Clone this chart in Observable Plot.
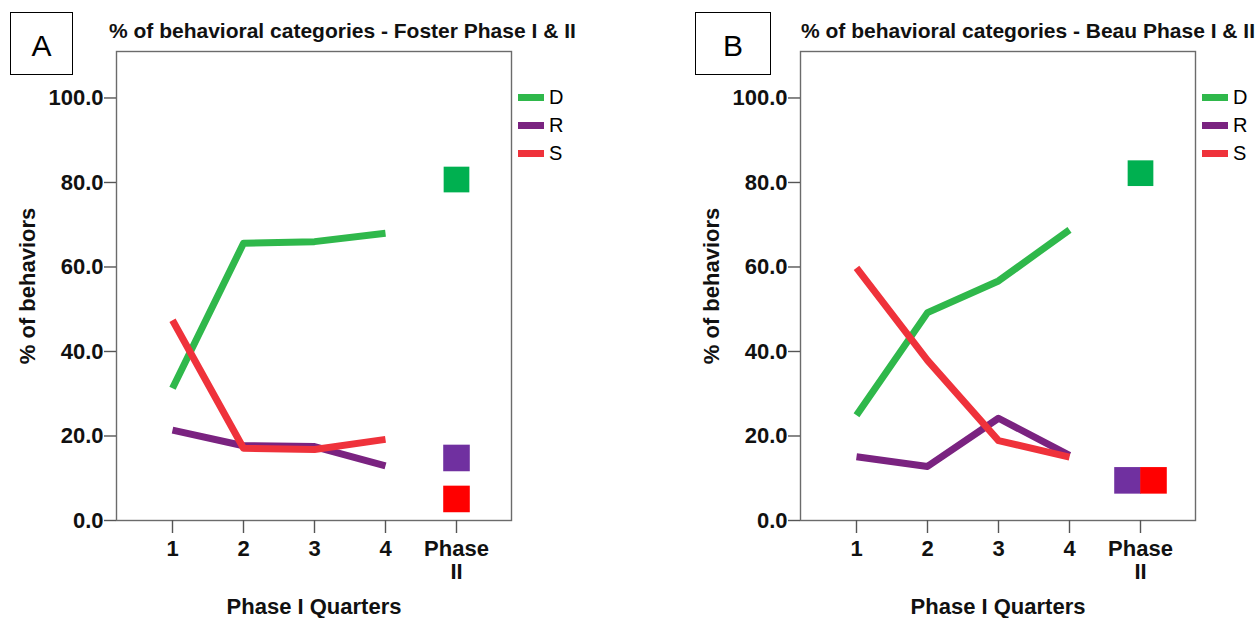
<!DOCTYPE html>
<html>
<head>
<meta charset="utf-8">
<script src="https://cdn.jsdelivr.net/npm/d3@7"></script>
<script src="https://cdn.jsdelivr.net/npm/@observablehq/plot@0.6"></script>
<style>
  html, body { margin: 0; padding: 0; background: #fff; }
  body { width: 1255px; height: 618px; position: relative; overflow: hidden; }
  .abs { position: absolute; }
  .panel { width: 640px; height: 618px; }
  .panel svg { max-width: none !important; }
  .title { font-family: "Liberation Sans Narrow", "Arial Narrow", "Liberation Sans", sans-serif; font-weight: bold; font-size: 21px; color: #111; white-space: nowrap; line-height: 1; }
  .box { border: 1.5px solid #000; box-sizing: border-box; font-family: "Liberation Sans", Arial, sans-serif; font-size: 30px; display: flex; align-items: center; justify-content: center; padding-top: 4px; }
  .legend { font-family: "Liberation Sans", Arial, sans-serif; font-size: 20px; color: #000; }
  .legend .row { display: flex; align-items: center; height: 28px; }
  .legend .sw { width: 26px; height: 7px; margin-right: 5px; }
</style>
</head>
<body>
<script>
// ---- data ----
const quarters = ["1", "2", "3", "4", "Phase II"];
const phase1Quarters = ["1", "2", "3", "4"];
const seriesNames = ["D", "R", "S"];
const yTicks = [0, 20, 40, 60, 80, 100];

// Foster (panel A)
const fosterD = [31.3, 65.6, 66.0, 68.0];
const fosterR = [21.4, 17.7, 17.5, 12.9];
const fosterS = [47.4, 17.1, 16.8, 19.2];
const fosterPhase2 = [80.7, 14.8, 5.1]; // D, R, S

// Beau (panel B)
const beauD = [24.9, 49.2, 56.7, 68.8];
const beauR = [15.1, 12.8, 24.2, 15.4];
const beauS = [59.8, 37.9, 18.9, 15.0];
const beauPhase2 = [82.2, 9.5, 9.5]; // D, R, S

const lineColors = ["#2fb84b", "#7a2380", "#ef323b"];
const squareColors = ["#00b050", "#7030a0", "#ff0000"];

const narrow = '"Liberation Sans Narrow", "Arial Narrow", "Liberation Sans", sans-serif';

function panel(cfg) {
  const series = [cfg.D, cfg.R, cfg.S];
  const lineData = [];
  series.forEach((vals, i) => vals.forEach((v, j) => lineData.push({q: phase1Quarters[j], v, s: seriesNames[i]})));
  const sq = seriesNames.map((s, i) => ({q: "Phase II", v: cfg.p2[i], s}));
  const plot = Plot.plot({
    width: 640,
    height: 618,
    marginLeft: 116,
    marginRight: 129,
    marginTop: 51,
    marginBottom: 98,
    style: {fontFamily: narrow, fontWeight: "bold", fontSize: "22px", color: "#111", background: "transparent", overflow: "visible", maxWidth: "none"},
    x: {type: "point", domain: quarters, padding: 0.775},
    y: {domain: [0, 111]},
    color: {domain: seriesNames, range: lineColors},
    marks: [
      Plot.frame({stroke: "#6b6b6b", strokeWidth: 1.4}),
      Plot.axisY({ticks: yTicks, tickFormat: d => d.toFixed(1), tickSize: 12, tickPadding: 1,
        stroke: "#555", strokeWidth: 1.4, fontSize: 22,
        label: "% of behaviors", labelAnchor: "center", labelArrow: "none", labelOffset: 97}),
      Plot.axisX({tickSize: 13, tickPadding: 6, stroke: "#555", strokeWidth: 1.4, fontSize: 22, lineHeight: 1.05,
        tickFormat: d => d === "Phase II" ? "Phase\nII" : d,
        label: "Phase I Quarters", labelAnchor: "center", labelArrow: "none", labelOffset: 93}),
      Plot.line(lineData, {x: "q", y: "v", z: "s", stroke: "s", strokeWidth: 7, strokeLinecap: "butt"}),
      Plot.dot([sq[0]], {x: "q", y: "v", symbol: "square", r: 14.5, fill: squareColors[0]}),
      Plot.dot([sq[1]], {x: "q", y: "v", symbol: "square", r: 15, fill: squareColors[1], dx: cfg.dodge ? -13 : 0}),
      Plot.dot([sq[2]], {x: "q", y: "v", symbol: "square", r: 15, fill: squareColors[2], dx: cfg.dodge ? 13 : 0})
    ]
  });
  const wrap = document.createElement("div");
  wrap.className = "abs panel";
  wrap.style.left = cfg.left + "px";
  wrap.style.top = "0px";
  wrap.appendChild(plot);
  document.body.appendChild(wrap);

  // title
  const t = document.createElement("div");
  t.className = "abs title";
  t.style.left = cfg.titleLeft + "px";
  t.style.top = "20px";
  t.textContent = cfg.title;
  document.body.appendChild(t);

  // letter box
  const b = document.createElement("div");
  b.className = "abs box";
  b.style.left = cfg.boxLeft + "px";
  b.style.top = "12px";
  b.style.width = cfg.boxW + "px";
  b.style.height = "63px";
  b.textContent = cfg.letter;
  document.body.appendChild(b);

  // legend
  const lg = document.createElement("div");
  lg.className = "abs legend";
  lg.style.left = (cfg.left + 518) + "px";
  lg.style.top = "83px";
  seriesNames.forEach((s, i) => {
    const r = document.createElement("div");
    r.className = "row";
    const sw = document.createElement("div");
    sw.className = "sw";
    sw.style.background = lineColors[i];
    const tx = document.createElement("span");
    tx.textContent = s;
    r.appendChild(sw); r.appendChild(tx);
    lg.appendChild(r);
  });
  document.body.appendChild(lg);
}

panel({left: 0, D: fosterD, R: fosterR, S: fosterS, p2: fosterPhase2, dodge: false,
  title: "% of behavioral categories - Foster Phase I & II", titleLeft: 109, letter: "A", boxLeft: 10, boxW: 63});
panel({left: 684, D: beauD, R: beauR, S: beauS, p2: beauPhase2, dodge: true,
  title: "% of behavioral categories - Beau Phase I & II", titleLeft: 801, letter: "B", boxLeft: 695, boxW: 76});
</script>
</body>
</html>
